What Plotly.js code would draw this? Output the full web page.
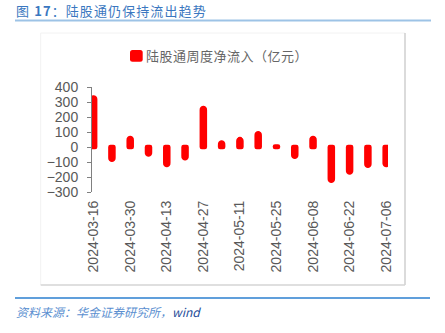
<!DOCTYPE html>
<html>
<head>
<meta charset="utf-8">
<script src="https://cdn.plot.ly/plotly-3.0.1.min.js"></script>
<style>
  html, body { margin: 0; padding: 0; background: #fff; }
  #chart { width: 445px; height: 333px; }
  .bars path { stroke-linejoin: round !important; }
</style>
</head>
<body>
<div id="chart"></div>
<script>
// ---- data ----
const weeks = ['2024-03-16','2024-03-23','2024-03-30','2024-04-06','2024-04-13','2024-04-20','2024-04-27','2024-05-04','2024-05-11','2024-05-18','2024-05-25','2024-06-01','2024-06-08','2024-06-15','2024-06-22','2024-06-29','2024-07-06'];
const netInflow = [330, -85, 60, -50, -120, -75, 260, 30, 53, 92, 3, -65, 60, -225, -170, -125, -120];
const tickLabels = ['2024-03-16','2024-03-30','2024-04-13','2024-04-27','2024-05-11','2024-05-25','2024-06-08','2024-06-22','2024-07-06'];
const yTicks = [-300, -200, -100, 0, 100, 200, 300, 400];
const seriesName = '陆股通周度净流入（亿元）';
const titleHead = '图 ';
const titleNum = '17';
const titleRest = '：陆股通仍保持流出趋势';
const sourceCn = '资料来源：华金证券研究所，';
const sourceEn = 'wind';

// ---- layout helpers (pixel -> paper) ----
const L = 92, R = 57, T = 87, B = 141, W = 445, H = 333;
const PW = W - L - R, PH = H - T - B;
const PX = x => (x - L) / PW;
const PY = y => (H - B - y) / PH;

const xRange = [-0.09, 16.1];
const tickIdx = tickLabels.map(t => weeks.indexOf(t));

const trace = {
  type: 'bar',
  x: weeks,
  y: netInflow,
  name: seriesName,
  width: 0.165,
  marker: { color: '#ff0000', line: { color: '#ff0000', width: 4.5 }, cornerradius: 1.5 },
  hoverinfo: 'x+y',
  showlegend: false
};

function hline(x0, x1, y, color, w) {
  return { type: 'line', xref: 'paper', yref: 'paper', x0: PX(x0), x1: PX(x1), y0: PY(y), y1: PY(y), line: { color: color, width: w } };
}
function vline(x, y0, y1, color, w) {
  return { type: 'line', xref: 'paper', yref: 'paper', x0: PX(x), x1: PX(x), y0: PY(y0), y1: PY(y1), line: { color: color, width: w } };
}
function roundRect(x0, y0, x1, y1, r) {
  const a = PX(x0), b = PX(x1), c = PY(y0), d = PY(y1);
  const rx = r / PW, ry = r / PH;
  return 'M' + (a + rx) + ',' + c + ' L' + (b - rx) + ',' + c + ' Q' + b + ',' + c + ' ' + b + ',' + (c - ry) +
    ' L' + b + ',' + (d + ry) + ' Q' + b + ',' + d + ' ' + (b - rx) + ',' + d +
    ' L' + (a + rx) + ',' + d + ' Q' + a + ',' + d + ' ' + a + ',' + (d + ry) +
    ' L' + a + ',' + (c - ry) + ' Q' + a + ',' + c + ' ' + (a + rx) + ',' + c + ' Z';
}
const ls = (t, px) => '<span style="letter-spacing:' + px + 'px">' + t + '</span>';

const layout = {
  width: W, height: H,
  margin: { l: L, r: R, t: T, b: B, pad: 0 },
  paper_bgcolor: '#ffffff',
  plot_bgcolor: 'rgba(0,0,0,0)',
  font: { family: '"Liberation Sans", Arial, sans-serif', size: 14, color: '#595959' },
  showlegend: false,
  bargap: 0,
  xaxis: {
    type: 'category',
    range: xRange,
    tickmode: 'array',
    tickvals: tickLabels,
    ticktext: tickLabels,
    tickangle: -90,
    ticks: '',
    ticklabelstandoff: 5,
    showline: false,
    showgrid: false,
    zeroline: false,
    tickfont: { size: 14, color: '#595959' },
    fixedrange: true
  },
  xaxis2: {
    type: 'linear',
    range: xRange,
    overlaying: 'x',
    anchor: 'free',
    position: 3 / 7,
    tickmode: 'array',
    tickvals: tickIdx,
    showticklabels: false,
    ticks: 'outside',
    ticklen: 3,
    tickcolor: '#808080',
    showline: true,
    linecolor: '#808080',
    linewidth: 1,
    showgrid: false,
    zeroline: false
  },
  yaxis: {
    range: [-300, 400],
    tickmode: 'array',
    tickvals: yTicks,
    ticks: 'outside',
    ticklen: 4,
    ticklabelstandoff: 6,
    tickcolor: '#808080',
    showline: true,
    linecolor: '#808080',
    linewidth: 1,
    showgrid: false,
    zeroline: false,
    tickfont: { size: 14, color: '#595959' },
    fixedrange: true
  },
  shapes: [
    hline(15, 431, 20.5, '#9dc3e6', 2),
    hline(15, 430, 298, '#2b7fcf', 1.5),
    hline(40.7, 405, 33, '#f2f2f2', 1),
    vline(40.7, 33, 285, '#f2f2f2', 1),
    vline(405, 33, 285, '#c8c8c8', 1.3),
    hline(40.7, 405, 285, '#d4d4d4', 1.3),
    { type: 'path', xref: 'paper', yref: 'paper', path: roundRect(130, 50, 142.7, 61.7, 2.5), fillcolor: '#ff0000', line: { width: 0 } }
  ],
  annotations: [
    { xref: 'paper', yref: 'paper', x: PX(15), y: PY(10), xanchor: 'left', yanchor: 'middle', showarrow: false, borderpad: 0,
      text: ls(titleHead, 1.1) + '<b>' + ls(titleNum, 1.1) + '</b>' + ls(titleRest, 1.1),
      font: { family: '"Noto Sans CJK SC", "Liberation Sans", sans-serif', size: 13, color: '#3a77c0' } },
    { xref: 'paper', yref: 'paper', x: PX(145), y: PY(56), xanchor: 'left', yanchor: 'middle', showarrow: false, borderpad: 0,
      text: ls(seriesName, 0.5), font: { family: '"Noto Sans CJK SC", sans-serif', size: 13, color: '#666666' } },
    { xref: 'paper', yref: 'paper', x: PX(15), y: PY(311.5), xanchor: 'left', yanchor: 'middle', showarrow: false, borderpad: 0,
      text: '<i>' + ls(sourceCn, 0) + '<span style="color:#1f4e9a">' + sourceEn + '</span></i>',
      font: { family: '"Noto Sans CJK SC", "Liberation Sans", sans-serif', size: 12, color: '#5b8fd0' } }
  ]
};

Plotly.newPlot('chart', [trace], layout, { displayModeBar: false, staticPlot: true });
</script>
</body>
</html>
